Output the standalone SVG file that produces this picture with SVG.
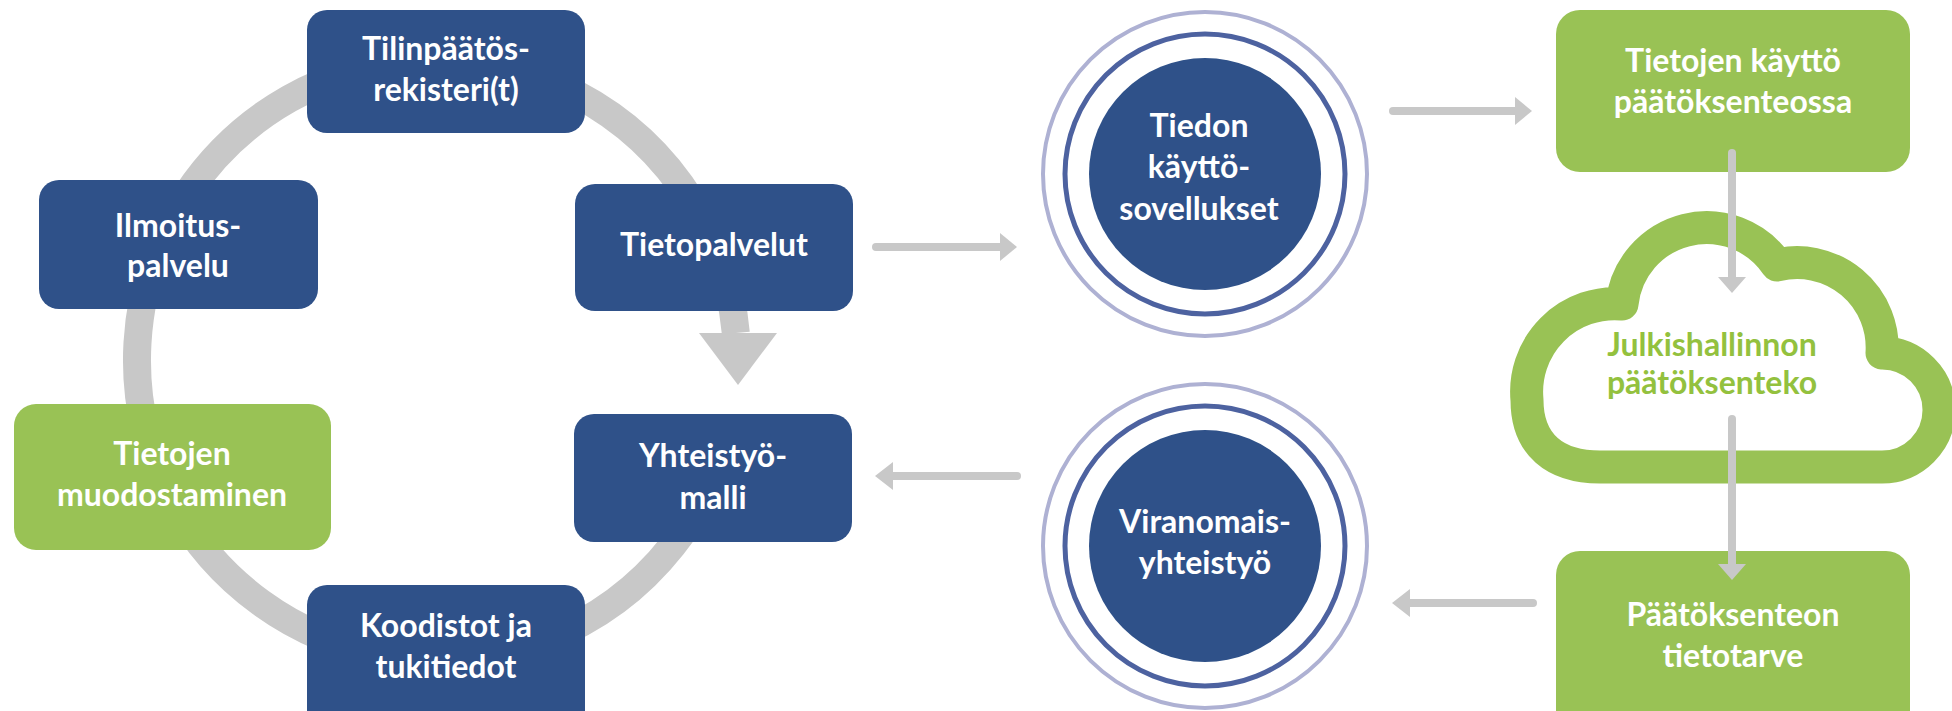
<svg xmlns="http://www.w3.org/2000/svg" width="1952" height="711" viewBox="0 0 1952 711">
<defs>
<style>
.blue{fill:#2f5189}
.green{fill:#99c255}
.t{font-family:Lato,"Open Sans","Liberation Sans",sans-serif;font-weight:700;font-size:32px;fill:#ffffff;text-anchor:middle}
.tg{font-family:Lato,"Open Sans","Liberation Sans",sans-serif;font-weight:700;font-size:32px;fill:#93c13e;text-anchor:middle}
.arr{stroke:#c8c8c8;stroke-width:8;stroke-linecap:round;fill:none}
.head{fill:#c8c8c8}
.ring1{fill:none;stroke:#aeb1d3;stroke-width:4}
.ring2{fill:none;stroke:#4d62a0;stroke-width:5}
</style>
</defs>
<rect width="1952" height="711" fill="#ffffff"/>

<g id="cycle-ring">
<path d="M 735.8 333 A 300 300 0 1 0 730.9 420" fill="none" stroke="#c8c8c8" stroke-width="28"/>
<polygon points="699,333 777,333 738,385" fill="#c8c8c8"/>
</g>

<g id="n-tilinpaatos">
<rect class="blue" x="307" y="10" width="278" height="123" rx="20"/>
<text class="t" x="446" y="60">Tilinpäätös-</text>
<text class="t" x="446" y="101">rekisteri(t)</text>
</g>
<g id="n-ilmoitus">
<rect class="blue" x="39" y="180" width="279" height="129" rx="20"/>
<text class="t" x="178" y="237">Ilmoitus-</text>
<text class="t" x="178" y="277">palvelu</text>
</g>
<g id="n-tietopalvelut">
<rect class="blue" x="575" y="184" width="278" height="127" rx="20"/>
<text class="t" x="714" y="256">Tietopalvelut</text>
</g>
<g id="n-muodostaminen">
<rect class="green" x="14" y="404" width="317" height="146" rx="22"/>
<text class="t" x="172" y="465">Tietojen</text>
<text class="t" x="172" y="506">muodostaminen</text>
</g>
<g id="n-yhteistyomalli">
<rect class="blue" x="574" y="414" width="278" height="128" rx="20"/>
<text class="t" x="713" y="467">Yhteistyö-</text>
<text class="t" x="713" y="509">malli</text>
</g>
<g id="n-koodistot">
<rect class="blue" x="307" y="585" width="278" height="150" rx="20"/>
<text class="t" x="446" y="637">Koodistot ja</text>
<text class="t" x="446" y="678">tukitiedot</text>
</g>

<g id="n-kayttosovellukset">
<circle class="ring1" cx="1205" cy="174" r="162"/>
<circle class="ring2" cx="1205" cy="174" r="140"/>
<circle class="blue" cx="1205" cy="174" r="116"/>
<text class="t" x="1199" y="137">Tiedon</text>
<text class="t" x="1199" y="178">käyttö-</text>
<text class="t" x="1199" y="220">sovellukset</text>
</g>
<g id="n-viranomaisyhteistyo">
<circle class="ring1" cx="1205" cy="546" r="162"/>
<circle class="ring2" cx="1205" cy="546" r="140"/>
<circle class="blue" cx="1205" cy="546" r="116"/>
<text class="t" x="1205" y="533">Viranomais-</text>
<text class="t" x="1205" y="574">yhteistyö</text>
</g>

<g id="n-kaytto">
<rect class="green" x="1556" y="10" width="354" height="162" rx="24"/>
<text class="t" x="1733" y="72">Tietojen käyttö</text>
<text class="t" x="1733" y="113">päätöksenteossa</text>
</g>
<g id="n-paatoksenteko">
<path d="M 1527 400 A 88 88 0 0 1 1622 304 A 85 85 0 0 1 1777 265 A 85 85 0 0 1 1882 353 A 57 57 0 0 1 1882 467 L 1600 467 C 1555 467 1527 445 1527 400 Z" fill="none" stroke="#99c255" stroke-width="33" stroke-linejoin="round"/>
<text class="tg" x="1712" y="356">Julkishallinnon</text>
<text class="tg" x="1712" y="394">päätöksenteko</text>
</g>
<g id="n-tietotarve">
<rect class="green" x="1556" y="551" width="354" height="190" rx="24"/>
<text class="t" x="1733" y="626">Päätöksenteon</text>
<text class="t" x="1733" y="667">tietotarve</text>
</g>

<g id="connectors">
<line class="arr" x1="876" y1="247" x2="1002" y2="247"/>
<polygon class="head" points="1000,233 1017,247 1000,261"/>
<line class="arr" x1="1393" y1="111" x2="1517" y2="111"/>
<polygon class="head" points="1515,97 1532,111 1515,125"/>
<line class="arr" x1="1732" y1="153" x2="1732" y2="279"/>
<polygon class="head" points="1718,277 1746,277 1732,293"/>
<line class="arr" x1="1732" y1="419" x2="1732" y2="566"/>
<polygon class="head" points="1718,564 1746,564 1732,580"/>
<line class="arr" x1="1533" y1="603" x2="1408" y2="603"/>
<polygon class="head" points="1410,589 1392,603 1410,617"/>
<line class="arr" x1="1017" y1="476" x2="892" y2="476"/>
<polygon class="head" points="893,462 875,476 893,490"/>
</g>
</svg>
